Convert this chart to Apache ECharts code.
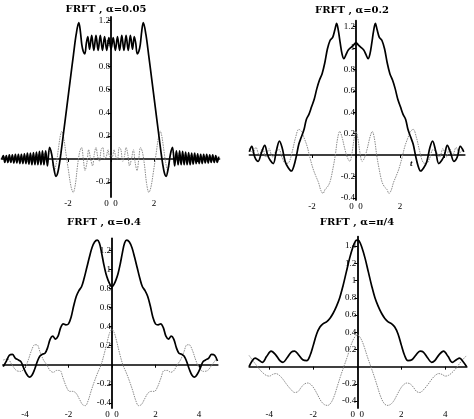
<!DOCTYPE html>
<html><head><meta charset="utf-8">
<script src="https://cdn.jsdelivr.net/npm/echarts@6/dist/echarts.min.js"></script>
<style>html,body{margin:0;padding:0;background:#fff}#c{width:474px;height:419px}</style>
</head><body><div id="c"></div>
<script>
// ---- Titles ----
const titles = ['FRFT , α=0.05', 'FRFT , α=0.2', 'FRFT , α=0.4', 'FRFT , α=π/4'];

// ---- Tick labels ----
const p1YTicks = [-0.2, 0.2, 0.4, 0.6, 0.8, 1, 1.2];
const p2YTicks = [-0.4, -0.2, 0.2, 0.4, 0.6, 0.8, 1, 1.2];
const p3YTicks = [-0.4, -0.2, 0.2, 0.4, 0.6, 0.8, 1, 1.2];
const p4YTicks = [-0.4, -0.2, 0.2, 0.4, 0.6, 0.8, 1, 1.2, 1.4];
const p1XTicks = [-4, -2, 0, 2, 4];
const p1XLabels = [-2, 0, 2];
const p2XTicks = [-4, -2, 0, 2, 4];
const p2XLabels = [-2, 0, 2];
const p3XTicks = [-4, -2, 0, 2, 4];
const p3XLabels = [-4, -2, 0, 2, 4];
const p4XTicks = [-4, -2, 0, 2, 4];
const p4XLabels = [-4, -2, 0, 2, 4];

// ---- Panel 1 (alpha = 0.05): real part (black) ----
const p1Re = [
 [-5.08,0.0],[-5.01,0.03],[-4.94,-0.03],[-4.87,0.03],[-4.80,-0.03],[-4.73,0.035],[-4.66,-0.03],[-4.59,0.035],
 [-4.52,-0.035],[-4.45,0.04],[-4.38,-0.035],[-4.31,0.04],[-4.24,-0.04],[-4.17,0.04],[-4.10,-0.04],[-4.03,0.045],
 [-3.96,-0.04],[-3.89,0.05],[-3.82,-0.045],[-3.75,0.05],[-3.68,-0.05],[-3.61,0.055],[-3.54,-0.05],[-3.47,0.06],
 [-3.40,-0.05],[-3.33,0.065],[-3.26,-0.05],[-3.19,0.07],[-3.12,-0.05],[-3.04,0.07],[-2.96,-0.06],[-2.86,0.10],
 [-2.76,0.04],[-2.66,-0.08],[-2.56,-0.15],[-2.48,-0.12],[-2.40,-0.04],[-2.33,0.05],[-2.2,0.24],[-2.05,0.46],
 [-1.9,0.68],[-1.75,0.9],[-1.62,1.08],[-1.5,1.18],[-1.43,1.11],[-1.36,0.99],[-1.29,0.93],[-1.22,0.91],
 [-1.15,1.0],[-1.08,1.06],[-1.0,0.95],[-0.9,1.07],[-0.8,0.94],[-0.7,1.07],[-0.6,0.94],[-0.5,1.07],
 [-0.4,0.94],[-0.3,1.06],[-0.2,0.94],[-0.1,1.05],[0,0.95],
 [0.1,1.05],[0.2,0.94],[0.3,1.06],[0.4,0.94],[0.5,1.07],[0.6,0.94],[0.7,1.07],[0.8,0.94],[0.9,1.07],[1.0,0.95],
 [1.08,1.06],[1.15,1.0],[1.22,0.91],[1.29,0.93],[1.36,0.99],[1.43,1.11],[1.5,1.18],[1.62,1.08],[1.75,0.9],
 [1.9,0.68],[2.05,0.46],[2.2,0.24],[2.33,0.05],[2.40,-0.04],[2.48,-0.12],[2.56,-0.15],[2.66,-0.08],[2.76,0.04],
 [2.86,0.10],[2.96,-0.06],[3.04,0.07],[3.12,-0.05],[3.19,0.07],[3.26,-0.05],[3.33,0.065],[3.40,-0.05],[3.47,0.06],
 [3.54,-0.05],[3.61,0.055],[3.68,-0.05],[3.75,0.05],[3.82,-0.045],[3.89,0.05],[3.96,-0.04],[4.03,0.045],[4.10,-0.04],
 [4.17,0.04],[4.24,-0.04],[4.31,0.04],[4.38,-0.035],[4.45,0.04],[4.52,-0.035],[4.59,0.035],[4.66,-0.03],[4.73,0.035],
 [4.80,-0.03],[4.87,0.03],[4.94,-0.03],[5.01,0.02]
];
// imaginary part (grey)
const p1Im = [
 [-5.08,0.0],[-4.9,0.02],[-4.75,-0.02],[-4.6,0.02],[-4.45,-0.02],[-4.3,0.025],[-4.15,-0.025],[-4.0,0.03],
 [-3.85,-0.03],[-3.7,0.03],[-3.55,-0.03],[-3.4,0.04],[-3.25,-0.04],[-3.1,0.05],[-2.98,-0.03],[-2.84,0.09],
 [-2.74,0.0],[-2.64,-0.1],[-2.54,-0.03],[-2.44,0.1],[-2.36,0.2],[-2.29,0.24],[-2.2,0.18],[-2.1,0.05],
 [-1.98,-0.1],[-1.86,-0.24],[-1.76,-0.29],[-1.66,-0.22],[-1.56,-0.06],[-1.46,0.06],[-1.37,0.1],[-1.29,0.0],
 [-1.21,-0.1],[-1.12,-0.03],[-1.04,0.08],[-0.95,0.0],[-0.86,-0.06],[-0.78,0.04],[-0.7,0.1],[-0.62,0.02],
 [-0.54,-0.02],[-0.46,0.08],[-0.38,0.1],[-0.3,0.0],[-0.22,0.02],[-0.14,0.08],[-0.06,0.02],[0,0.03],
 [0.06,0.02],[0.14,0.08],[0.22,0.02],[0.3,0.0],[0.38,0.1],[0.46,0.08],[0.54,-0.02],[0.62,0.02],[0.7,0.1],
 [0.78,0.04],[0.86,-0.06],[0.95,0.0],[1.04,0.08],[1.12,-0.03],[1.21,-0.1],[1.29,0.0],[1.37,0.1],[1.46,0.06],
 [1.56,-0.06],[1.66,-0.22],[1.76,-0.29],[1.86,-0.24],[1.98,-0.1],[2.1,0.05],[2.2,0.18],[2.29,0.24],[2.36,0.2],
 [2.44,0.1],[2.54,-0.03],[2.64,-0.1],[2.74,0.0],[2.84,0.09],[2.98,-0.03],[3.1,0.05],[3.25,-0.04],[3.4,0.04],
 [3.55,-0.03],[3.7,0.03],[3.85,-0.03],[4.0,0.03],[4.15,-0.025],[4.3,0.025],[4.45,-0.02],[4.6,0.02],[4.75,-0.02],
 [4.9,0.02],[5.03,0.0]
];

// ---- Panel 2 (alpha = 0.2) ----
const p2Re = [
 [-4.85,0.03],[-4.74,0.08],[-4.6,-0.02],[-4.45,-0.06],[-4.3,0.02],[-4.15,0.09],[-4.02,0.0],[-3.9,-0.05],
 [-3.76,-0.08],[-3.62,0.04],[-3.48,0.13],[-3.36,0.07],[-3.22,-0.06],[-3.08,-0.12],[-2.94,-0.15],[-2.82,-0.1],
 [-2.7,0.0],[-2.6,0.1],[-2.48,0.17],[-2.36,0.24],[-2.26,0.33],[-2.14,0.38],[-2.02,0.45],[-1.9,0.52],
 [-1.78,0.62],[-1.66,0.7],[-1.54,0.76],[-1.42,0.86],[-1.3,0.99],[-1.18,1.07],[-1.06,1.1],[-0.96,1.17],
 [-0.88,1.23],[-0.8,1.16],[-0.72,1.05],[-0.63,0.94],[-0.55,0.9],[-0.45,0.94],[-0.35,0.98],[-0.2,1.01],
 [-0.1,1.03],[0,1.05],
 [0.1,1.03],[0.2,1.01],[0.35,0.98],[0.45,0.94],[0.55,0.9],[0.63,0.94],[0.72,1.05],[0.8,1.16],[0.88,1.23],
 [0.96,1.17],[1.06,1.1],[1.18,1.07],[1.3,0.99],[1.42,0.86],[1.54,0.76],[1.66,0.7],[1.78,0.62],[1.9,0.52],
 [2.02,0.45],[2.14,0.38],[2.26,0.33],[2.36,0.24],[2.48,0.17],[2.6,0.1],[2.7,0.0],[2.82,-0.1],[2.94,-0.15],
 [3.08,-0.12],[3.22,-0.06],[3.36,0.07],[3.48,0.13],[3.62,0.04],[3.76,-0.08],[3.9,-0.05],[4.02,0.0],[4.15,0.09],
 [4.3,0.02],[4.45,-0.06],[4.6,-0.02],[4.74,0.08],[4.9,0.03]
];
const p2Im = [
 [-4.85,0.06],[-4.7,0.02],[-4.55,0.07],[-4.4,0.0],[-4.25,0.06],[-4.1,-0.02],[-3.95,0.06],[-3.8,-0.02],
 [-3.65,0.03],[-3.5,0.05],[-3.35,-0.03],[-3.2,-0.08],[-3.05,-0.07],[-2.9,0.03],[-2.75,0.16],[-2.6,0.24],
 [-2.48,0.22],[-2.36,0.16],[-2.22,0.08],[-2.1,-0.02],[-1.95,-0.13],[-1.82,-0.2],[-1.7,-0.26],[-1.6,-0.33],
 [-1.5,-0.36],[-1.4,-0.32],[-1.3,-0.3],[-1.18,-0.25],[-1.06,-0.14],[-0.94,0.0],[-0.84,0.15],[-0.74,0.22],
 [-0.64,0.17],[-0.5,0.05],[-0.38,-0.03],[-0.28,-0.06],[-0.18,0.02],[-0.08,0.16],[0,0.22],
 [0.08,0.16],[0.18,0.02],[0.28,-0.06],[0.38,-0.03],[0.5,0.05],[0.64,0.17],[0.74,0.22],[0.84,0.15],[0.94,0.0],
 [1.06,-0.14],[1.18,-0.25],[1.3,-0.3],[1.4,-0.32],[1.5,-0.36],[1.6,-0.33],[1.7,-0.26],[1.82,-0.2],[1.95,-0.13],
 [2.1,-0.02],[2.22,0.08],[2.36,0.16],[2.48,0.22],[2.6,0.24],[2.75,0.16],[2.9,0.03],[3.05,-0.07],[3.2,-0.08],
 [3.35,-0.03],[3.5,0.05],[3.65,0.03],[3.8,-0.02],[3.95,0.06],[4.1,-0.02],[4.25,0.06],[4.4,0.0],[4.55,0.07],
 [4.7,0.02],[4.9,0.06]
];

// ---- Panel 3 (alpha = 0.4) ----
const p3Re = [
 [-5.0,-0.02],[-4.85,0.04],[-4.72,0.1],[-4.58,0.11],[-4.45,0.07],[-4.3,0.05],[-4.18,0.03],[-4.05,-0.04],
 [-3.92,-0.1],[-3.8,-0.13],[-3.68,-0.11],[-3.56,-0.05],[-3.44,0.03],[-3.32,0.09],[-3.2,0.11],[-3.08,0.12],
 [-2.96,0.18],[-2.84,0.27],[-2.72,0.3],[-2.6,0.27],[-2.48,0.3],[-2.36,0.39],[-2.24,0.43],[-2.12,0.42],
 [-2.0,0.43],[-1.88,0.5],[-1.76,0.62],[-1.64,0.72],[-1.52,0.78],[-1.4,0.82],[-1.28,0.91],[-1.16,1.02],
 [-1.04,1.13],[-0.92,1.23],[-0.8,1.29],[-0.68,1.31],[-0.58,1.28],[-0.48,1.18],[-0.38,1.06],[-0.28,0.96],
 [-0.18,0.89],[-0.08,0.84],[0,0.82],
 [0.08,0.84],[0.18,0.89],[0.28,0.96],[0.38,1.06],[0.48,1.18],[0.58,1.28],[0.68,1.31],[0.8,1.29],[0.92,1.23],
 [1.04,1.13],[1.16,1.02],[1.28,0.91],[1.4,0.82],[1.52,0.78],[1.64,0.72],[1.76,0.62],[1.88,0.5],[2.0,0.43],
 [2.12,0.42],[2.24,0.43],[2.36,0.39],[2.48,0.3],[2.6,0.27],[2.72,0.3],[2.84,0.27],[2.96,0.18],[3.08,0.12],
 [3.2,0.11],[3.32,0.09],[3.44,0.03],[3.56,-0.05],[3.68,-0.11],[3.8,-0.13],[3.92,-0.1],[4.05,-0.04],[4.18,0.03],
 [4.3,0.05],[4.45,0.07],[4.58,0.11],[4.72,0.1],[4.85,0.04]
];
const p3Im = [
 [-5.0,0.05],[-4.8,0.06],[-4.6,0.0],[-4.4,-0.06],[-4.2,-0.07],[-4.0,-0.03],[-3.85,0.05],[-3.7,0.15],
 [-3.55,0.21],[-3.45,0.21],[-3.3,0.13],[-3.15,0.05],[-3.0,0.0],[-2.85,-0.06],[-2.7,-0.08],[-2.55,-0.06],
 [-2.4,-0.06],[-2.25,-0.14],[-2.1,-0.23],[-1.95,-0.28],[-1.8,-0.28],[-1.65,-0.3],[-1.5,-0.36],[-1.35,-0.42],
 [-1.22,-0.43],[-1.1,-0.38],[-0.95,-0.27],[-0.8,-0.17],[-0.65,-0.08],[-0.5,0.0],[-0.35,0.12],[-0.2,0.26],
 [-0.1,0.34],[0,0.37],
 [0.1,0.34],[0.2,0.26],[0.35,0.12],[0.5,0.0],[0.65,-0.08],[0.8,-0.17],[0.95,-0.27],[1.1,-0.38],[1.22,-0.43],
 [1.35,-0.42],[1.5,-0.36],[1.65,-0.3],[1.8,-0.28],[1.95,-0.28],[2.1,-0.23],[2.25,-0.14],[2.4,-0.06],[2.55,-0.06],
 [2.7,-0.08],[2.85,-0.06],[3.0,0.0],[3.15,0.05],[3.3,0.13],[3.45,0.21],[3.55,0.21],[3.7,0.15],[3.85,0.05],
 [4.0,-0.03],[4.2,-0.07],[4.4,-0.06],[4.6,0.0],[4.8,0.06]
];

// ---- Panel 4 (alpha = pi/4) ----
const p4Re = [
 [-4.92,0.0],[-4.8,0.06],[-4.65,0.1],[-4.5,0.08],[-4.32,0.05],[-4.12,0.12],[-3.92,0.18],[-3.72,0.14],
 [-3.52,0.07],[-3.38,0.05],[-3.2,0.1],[-3.0,0.17],[-2.85,0.18],[-2.68,0.14],[-2.48,0.08],[-2.3,0.07],
 [-2.15,0.13],[-2.0,0.25],[-1.85,0.38],[-1.7,0.46],[-1.55,0.5],[-1.4,0.52],[-1.25,0.56],[-1.1,0.62],
 [-0.95,0.7],[-0.8,0.8],[-0.65,0.94],[-0.5,1.1],[-0.35,1.26],[-0.2,1.39],[-0.08,1.46],[0,1.47],
 [0.08,1.46],[0.2,1.39],[0.35,1.26],[0.5,1.1],[0.65,0.94],[0.8,0.8],[0.95,0.7],[1.1,0.62],[1.25,0.56],
 [1.4,0.52],[1.55,0.5],[1.7,0.46],[1.85,0.38],[2.0,0.25],[2.15,0.13],[2.3,0.07],[2.48,0.08],[2.68,0.14],
 [2.85,0.18],[3.0,0.17],[3.2,0.1],[3.38,0.05],[3.52,0.07],[3.72,0.14],[3.92,0.18],[4.12,0.12],[4.32,0.05],
 [4.5,0.08],[4.65,0.1],[4.8,0.06],[4.97,0.0]
];
const p4Im = [
 [-4.92,0.13],[-4.75,0.07],[-4.6,0.02],[-4.45,-0.03],[-4.3,-0.07],[-4.15,-0.1],[-4.0,-0.11],[-3.85,-0.09],
 [-3.7,-0.08],[-3.55,-0.1],[-3.4,-0.14],[-3.2,-0.21],[-3.0,-0.27],[-2.85,-0.3],[-2.7,-0.29],[-2.55,-0.24],
 [-2.4,-0.2],[-2.25,-0.19],[-2.1,-0.21],[-1.95,-0.26],[-1.8,-0.33],[-1.65,-0.4],[-1.5,-0.44],[-1.35,-0.45],
 [-1.2,-0.42],[-1.05,-0.34],[-0.9,-0.22],[-0.75,-0.1],[-0.6,0.01],[-0.45,0.12],[-0.3,0.24],[-0.15,0.33],[0,0.37],
 [0.15,0.33],[0.3,0.24],[0.45,0.12],[0.6,0.01],[0.75,-0.1],[0.9,-0.22],[1.05,-0.34],[1.2,-0.42],[1.35,-0.45],
 [1.5,-0.44],[1.65,-0.4],[1.8,-0.33],[1.95,-0.26],[2.1,-0.21],[2.25,-0.19],[2.4,-0.2],[2.55,-0.24],[2.7,-0.29],
 [2.85,-0.3],[3.0,-0.27],[3.2,-0.21],[3.4,-0.14],[3.55,-0.1],[3.7,-0.08],[3.85,-0.09],[4.0,-0.11],[4.15,-0.1],
 [4.3,-0.07],[4.45,-0.03],[4.6,0.02],[4.75,0.07],[4.97,0.13]
];

// ---- layout (positions/sizes only) ----
const panels = [
  {grid:{left:1.4, top:16.9, width:218.2, height:180.2}, x:[-5.1,5.05], y:[-0.33,1.23], yt:p1YTicks, xt:p1XTicks, xl:p1XLabels, re:p1Re, im:p1Im, title:[106,4]},
  {grid:{left:249.3, top:20.7, width:215.6, height:179.2}, x:[-4.85,4.95], y:[-0.42,1.255], yt:p2YTicks, xt:p2XTicks, xl:p2XLabels, re:p2Re, im:p2Im, title:[352,5]},
  {grid:{left:2.8, top:238.3, width:215.1, height:176.7}, x:[-5.02,4.87], y:[-0.455,1.33], yt:p3YTicks, xt:p3XTicks, xl:p3XLabels, re:p3Re, im:p3Im, title:[104,217]},
  {grid:{left:249.1, top:236.6, width:217.8, height:179.1}, x:[-4.92,4.98], y:[-0.48,1.51], yt:p4YTicks, xt:p4XTicks, xl:p4XLabels, re:p4Re, im:p4Im, title:[357,217]}
];

const labelFont = {fontFamily:'Liberation Serif', fontSize:9, color:'#000'};
const grids=[], xAxes=[], yAxes=[], series=[], graphics=[];
panels.forEach((p,i)=>{
  grids.push(Object.assign({containLabel:false}, p.grid));
  // pixel distance from grid's left edge to x = 0 (so the y axis sits on x = 0)
  const zeroOffset = p.grid.width * (0 - p.x[0]) / (p.x[1] - p.x[0]);
  xAxes.push({type:'value', gridIndex:i, min:p.x[0], max:p.x[1],
    axisLine:{onZero:true, lineStyle:{color:'#000', width:1.5}},
    axisTick:{show:true, length:3, customValues:p.xt, lineStyle:{color:'#000', width:1}},
    axisLabel:Object.assign({customValues:p.xl, margin:2, formatter:v=> v===0 ? '0  0' : String(v)}, labelFont),
    splitLine:{show:false}});
  yAxes.push({type:'value', gridIndex:i, min:p.y[0], max:p.y[1], position:'left', offset:-zeroOffset,
    axisLine:{onZero:false, lineStyle:{color:'#000', width:1.8}},
    axisTick:{show:true, length:3, customValues:p.yt, lineStyle:{color:'#000', width:1}},
    axisLabel:Object.assign({customValues:p.yt, margin:1}, labelFont),
    splitLine:{show:false}});
  series.push({type:'line', xAxisIndex:i, yAxisIndex:i, data:p.im, showSymbol:false, smooth:0.35,
    lineStyle:{color:'#8a8a8a', width:1, type:[1.5,1]}, z:3, silent:true, animation:false});
  series.push({type:'line', xAxisIndex:i, yAxisIndex:i, data:p.re, showSymbol:false, smooth:0.35,
    lineStyle:{color:'#000', width:1.7}, z:4, silent:true, animation:false});
  graphics.push({type:'text', x:p.title[0], y:p.title[1], style:{text:titles[i], textAlign:'center',
    font:'bold 10px "DejaVu Serif"', fill:'#000'}});
});
graphics.push({type:'text', x:410, y:159, style:{text:'t', font:'italic bold 9px "Liberation Serif"', fill:'#000'}});

const chart = echarts.init(document.getElementById('c'), null, {renderer:'canvas'});
chart.setOption({animation:false, backgroundColor:'#fff', grid:grids, xAxis:xAxes, yAxis:yAxes, series:series, graphic:graphics});
</script></body></html>
